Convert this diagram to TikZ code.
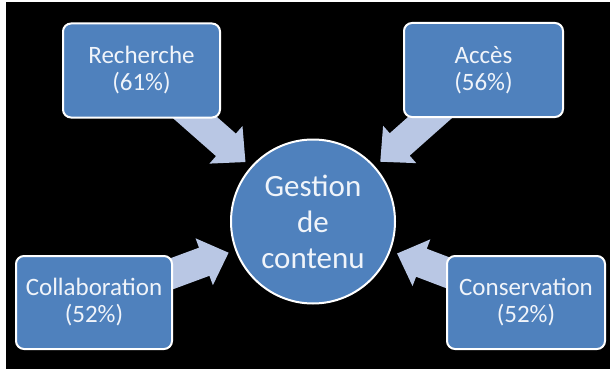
\documentclass[tikz,border=0pt]{standalone}
\usepackage{fontspec}
\setmainfont{Carlito}
\usetikzlibrary{calc}
\definecolor{boxblue}{RGB}{79,129,189}
\definecolor{arrowlav}{RGB}{185,199,228}
\definecolor{txtcol}{RGB}{240,244,250}
\pgfdeclarelayer{bg}\pgfdeclarelayer{arr}\pgfsetlayers{bg,arr,main}
\newcommand\blockarr[2]{%
  \coordinate (hd) at ($(#2)!26pt!(#1)$);
  \fill[arrowlav] ($(#1)!15pt!90:(#2)$) -- ($(hd)!15pt!-90:(#1)$) -- ($(hd)!25pt!-90:(#1)$) -- (#2)
    -- ($(hd)!25pt!90:(#1)$) -- ($(hd)!15pt!90:(#1)$) -- ($(#1)!15pt!-90:(#2)$) -- cycle;}
\begin{document}
\begin{tikzpicture}[x=1pt,y=-1pt,
  topicbox/.style={draw=white, line width=2pt, fill=boxblue, rounded corners=8pt, text=txtcol,
    font=\fontsize{25}{27}\selectfont, align=center, minimum width=157pt, minimum height=94pt, inner sep=0pt},
  hub/.style={circle, draw=white, line width=2pt, fill=boxblue, text=txtcol,
    font=\fontsize{31}{36}\selectfont, align=center, minimum size=164pt, inner sep=0pt}]
\useasboundingbox (0,0) rectangle (610,369);
\begin{pgfonlayer}{bg}
  \fill[white] (0,0) rectangle (610,369);
  \fill[black] (6,2) rectangle (610,369);
\end{pgfonlayer}
\node[hub] (hubn) at (313,221.5) {Gestion\\de\\contenu};
\node[topicbox] (rech) at (141.5,70.5) {Recherche\\(61\%)};
\node[topicbox, minimum width=159pt] (acc) at (483.5,70) {Accès\\(56\%)};
\node[topicbox, minimum width=156pt, minimum height=93pt] (coll) at (94,302.5) {Collaboration\\(52\%)};
\node[topicbox, minimum width=158pt, minimum height=93pt] (cons) at (526,302.5) {Conservation\\(52\%)};
\coordinate (tR) at ($(hubn.center)!90pt!(rech.center)$);
\coordinate (tA) at ($(hubn.center)!90pt!(acc.center)$);
\coordinate (tC) at ($(hubn.center)!90pt!(coll.center)$);
\coordinate (tS) at ($(hubn.center)!90pt!(cons.center)$);
\begin{pgfonlayer}{arr}
  \blockarr{rech.center}{tR}
  \blockarr{acc.center}{tA}
  \blockarr{coll.center}{tC}
  \blockarr{cons.center}{tS}
\end{pgfonlayer}
\end{tikzpicture}
\end{document}
